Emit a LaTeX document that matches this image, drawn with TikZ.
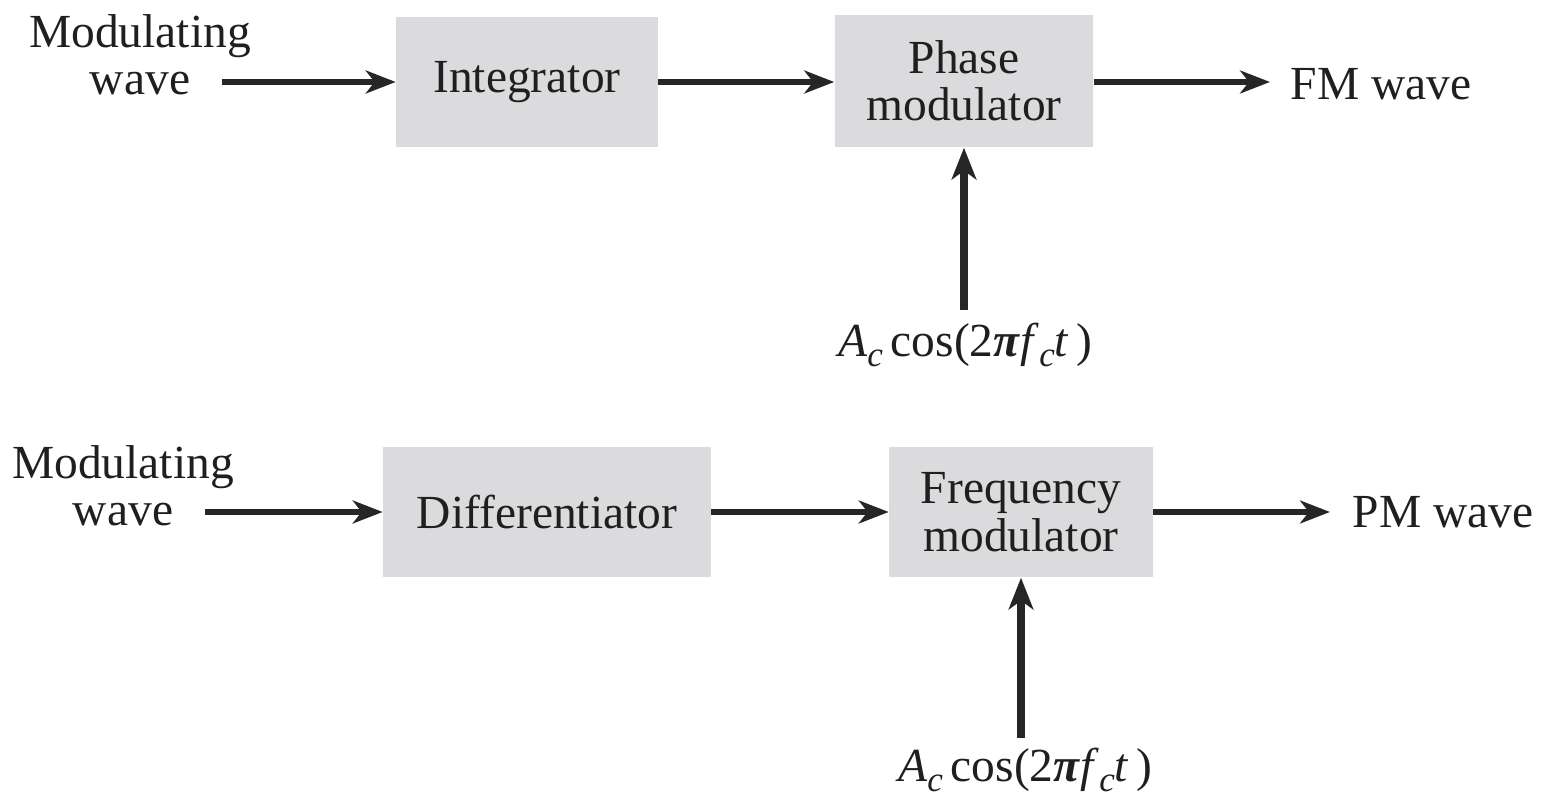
\documentclass[tikz,border=0pt]{standalone}
\usepackage{fontspec}
\setmainfont{Liberation Serif}
\newfontfamily\timesfont{Liberation Serif}
\usetikzlibrary{arrows.meta}
\newcommand{\lowsub}[1]{\raisebox{-0.45ex}{\fontsize{10}{10}\selectfont\itshape #1}}
\newcommand{\carrier}{\textit{A}\lowsub{c}\,cos(2\textbf{\textit{π}}\textit{f}\lowsub{c}\textit{t\,})}
\begin{document}
\begin{tikzpicture}[x=0.01cm,y=-0.01cm,
  every node/.style={font=\timesfont\fontsize{13.5}{13.5}\selectfont, text=black!88},
  block/.style={fill=blockgray, draw=none, inner sep=0pt, align=center},
  label/.style={align=center, inner sep=0pt},
  sig/.style={line width=1.5pt, draw=black!85, -{Stealth[length=8.5pt,width=6.5pt,inset=2.5pt]}},
  carrierline/.style={line width=2.1pt, draw=black!85, -{Stealth[length=9pt,width=7pt,inset=2.5pt]}}]
\definecolor{blockgray}{RGB}{219,219,221}
\useasboundingbox (0,0) rectangle (1542,798);

% FM generation via phase modulator
\node[label] (in1) at (140,55) {Modulating\\wave};
\node[block, minimum width=2.61cm, minimum height=1.30cm] (int) at (527,82) {Integrator};
\node[block, minimum width=2.58cm, minimum height=1.32cm] (pm) at (964,81) {Phase\\modulator};
\node[label, anchor=west, inner xsep=0.2cm] (fm) at (1270,84) {FM wave};
\node[label] (c1) at (965,345) {\carrier};
\coordinate (in1e) at (222,82);
\coordinate (c1t) at (964,310);
\draw[sig] (in1e) -- (int.west);
\draw[sig] (int.east) -- (int.east -| pm.west);
\draw[sig] (pm.east |- int.east) -- (fm.west |- int.east);
\draw[carrierline] (c1t) -- (pm.south);

% PM generation via frequency modulator
\node[label] (in2) at (123,486) {Modulating\\wave};
\node[block, minimum width=3.27cm, minimum height=1.29cm] (diff) at (547,512) {Differentiator};
\node[block, minimum width=2.63cm, minimum height=1.30cm] (fmod) at (1021,512) {Frequency\\modulator};
\node[label, anchor=west, inner xsep=0.22cm] (pmw) at (1330,512) {PM wave};
\node[label] (c2) at (1025,770) {\carrier};
\coordinate (in2e) at (205,512);
\coordinate (c2t) at (1021,738);
\draw[sig] (in2e) -- (diff.west);
\draw[sig] (diff.east) -- (fmod.west);
\draw[sig] (fmod.east) -- (pmw.west);
\draw[carrierline] (c2t) -- (fmod.south);
\end{tikzpicture}
\end{document}
